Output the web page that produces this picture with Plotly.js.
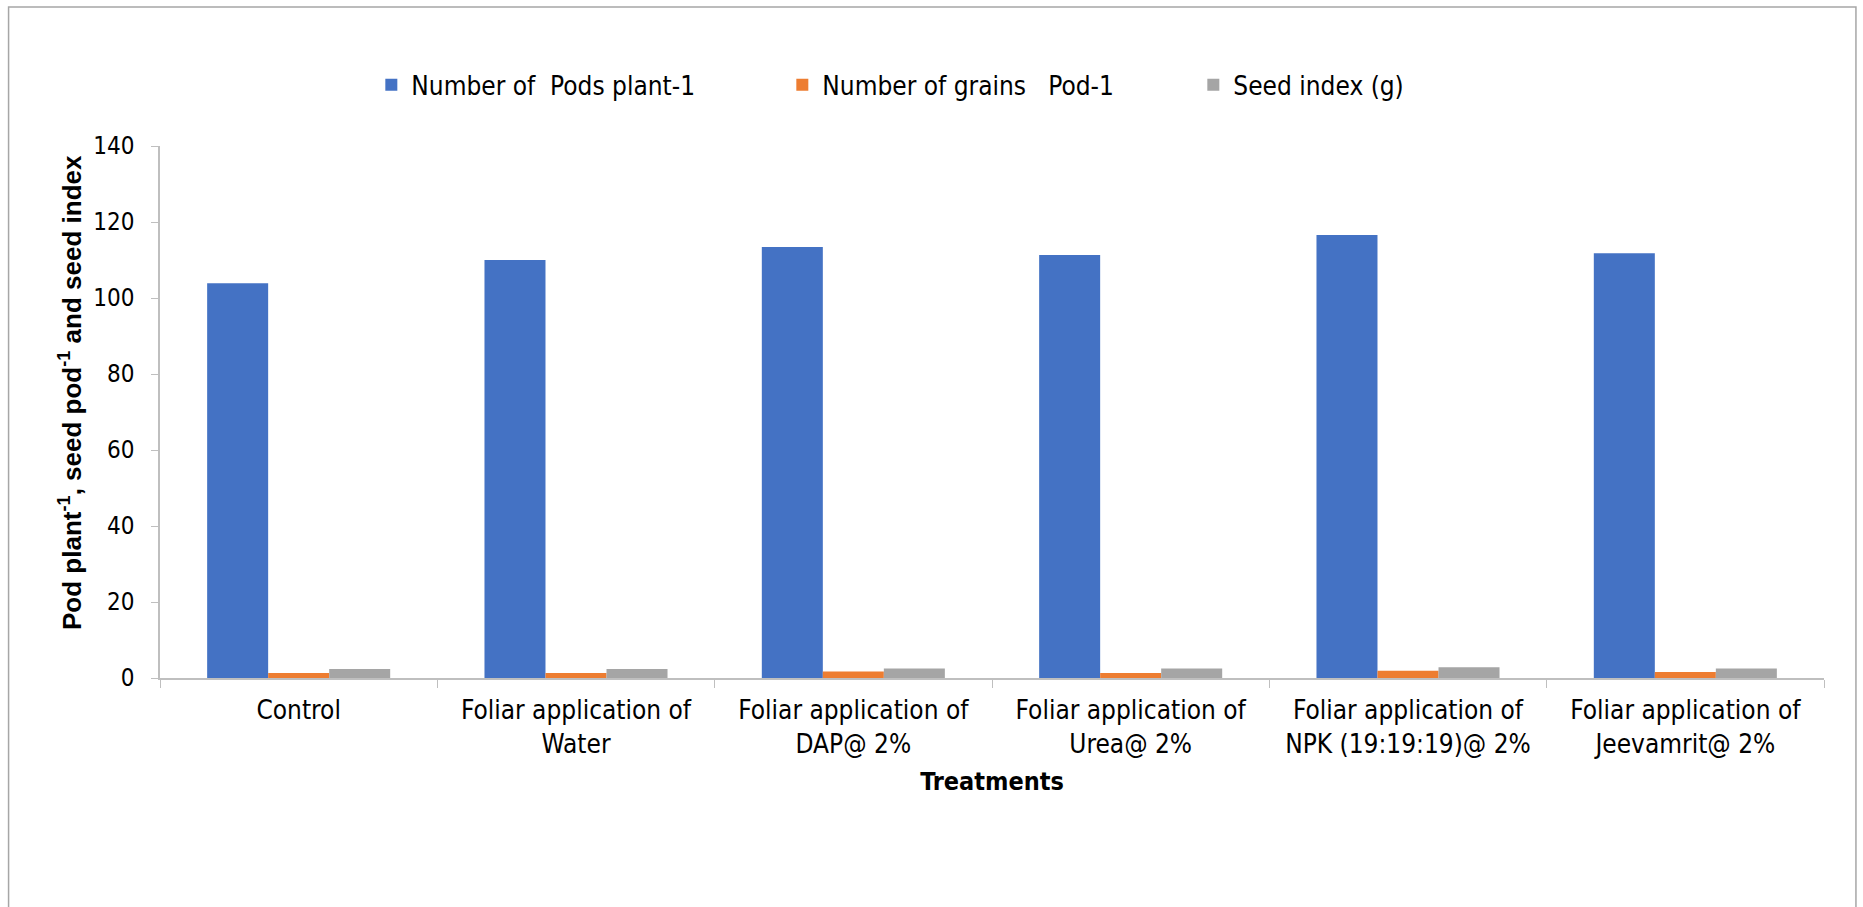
<!DOCTYPE html>
<html>
<head>
<meta charset="utf-8">
<script src="https://cdn.plot.ly/plotly-3.0.1.min.js"></script>
<style>
  body { margin: 0; background: #fff; }
  #plot { width: 1863px; height: 907px; }
</style>
</head>
<body>
<div id="plot"></div>
<script>
// treatments (x categories)
let treatments = [
  "Control",
  "Foliar application of<br>Water",
  "Foliar application of<br>DAP@ 2%",
  "Foliar application of<br>Urea@ 2%",
  "Foliar application of<br>NPK (19:19:19)@ 2%",
  "Foliar application of<br>Jeevamrit@ 2%"
];

// series values
let podsPlant = [103.9, 110.0, 113.4, 111.3, 116.6, 111.8];
let grainsPod = [1.3, 1.3, 1.7, 1.3, 1.9, 1.6];
let seedIndex = [2.4, 2.4, 2.5, 2.5, 2.8, 2.5];

let yTicks = [0, 20, 40, 60, 80, 100, 120, 140];

let narrow = "'DejaVu Sans Condensed', 'Liberation Sans Narrow', sans-serif";

// Trace for pods per plant
let trace1 = {
  x: treatments,
  y: podsPlant,
  type: "bar",
  name: "Number of  Pods plant-1",
  marker: {color: "#4472C4"}
};

// Trace for grains per pod
let trace2 = {
  x: treatments,
  y: grainsPod,
  type: "bar",
  name: "Number of grains   Pod-1",
  marker: {color: "#ED7D31"}
};

// Trace for seed index
let trace3 = {
  x: treatments,
  y: seedIndex,
  type: "bar",
  name: "Seed index (g)",
  marker: {color: "#A5A5A5"}
};

let traceData = [trace1, trace2, trace3];

let layout = {
  width: 1863,
  height: 907,
  margin: {l: 160, r: 39, t: 146, b: 229},
  paper_bgcolor: "#fff",
  plot_bgcolor: "#fff",
  barmode: "group",
  bargap: 0.34,
  bargroupgap: 0,
  font: {family: narrow, size: 24, color: "#000"},
  showlegend: true,
  legend: {
    orientation: "h",
    x: 0.127,
    xanchor: "left",
    y: 1.115,
    yanchor: "middle",
    entrywidth: 366,
    font: {family: narrow, size: 26, color: "#000"},
    traceorder: "normal"
  },
  xaxis: {
    type: "category",
    showline: true,
    linecolor: "#BFBFBF",
    linewidth: 1.5,
    ticks: "outside",
    tickson: "boundaries",
    ticklen: 8,
    tickcolor: "#BFBFBF",
    tickfont: {family: narrow, size: 26, color: "#000"},
    ticklabelstandoff: 8,
    showgrid: false,
    automargin: false,
    title: {
      text: "<b>Treatments</b>",
      font: {family: narrow, size: 25, color: "#000"},
      standoff: 15
    }
  },
  yaxis: {
    range: [0, 140],
    tickvals: yTicks,
    showline: true,
    linecolor: "#BFBFBF",
    linewidth: 1.5,
    ticks: "outside",
    ticklen: 7,
    tickcolor: "#BFBFBF",
    tickfont: {family: narrow, size: 24, color: "#000"},
    ticklabelstandoff: 12,
    showgrid: false,
    zeroline: false,
    automargin: false
  },
  // y axis title, placed a little above the plot centre like the original
  annotations: [{
    text: "<b>Pod plant<sup>-1</sup>, seed pod<sup>-1</sup> and seed index</b>",
    textangle: -90,
    xref: "paper",
    yref: "paper",
    x: -0.0535,
    y: 0.5376,
    xanchor: "center",
    yanchor: "middle",
    showarrow: false,
    font: {family: "'Liberation Sans', Arial, sans-serif", size: 26, color: "#000"}
  }],
  shapes: [{
    type: "rect",
    xref: "paper",
    yref: "paper",
    x0: -0.0910,
    x1: 1.0192,
    y0: -0.46,
    y1: 1.2613,
    line: {color: "#A6A6A6", width: 1.5},
    fillcolor: "rgba(0,0,0,0)",
    layer: "below"
  }]
};

Plotly.newPlot("plot", traceData, layout, {displayModeBar: false});
</script>
</body>
</html>
